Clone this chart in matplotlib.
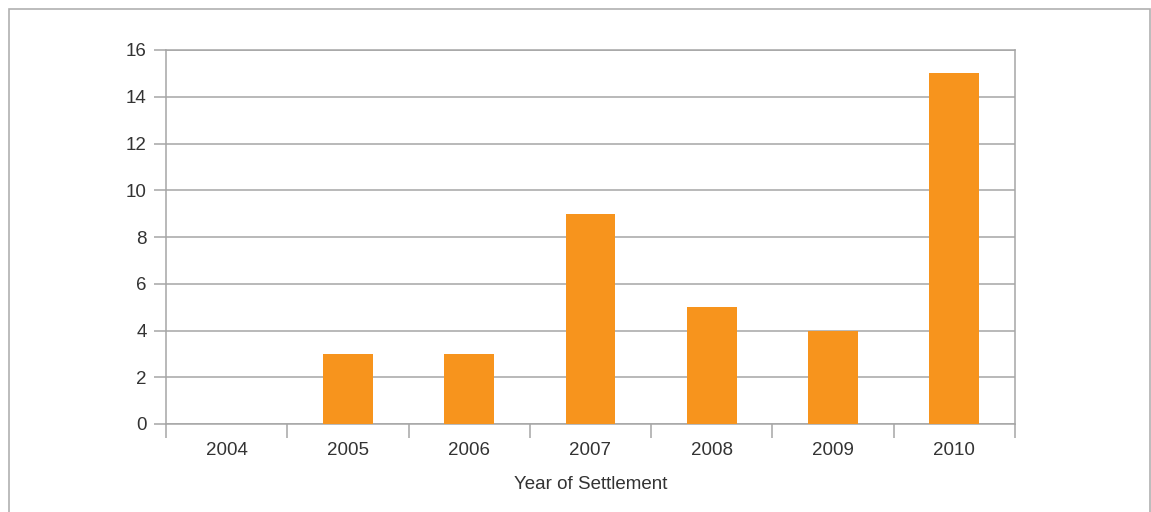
import numpy as np
import matplotlib.pyplot as plt
from matplotlib.patches import Rectangle

years = ['2004', '2005', '2006', '2007', '2008', '2009', '2010']
settlements = [0, 3, 3, 9, 5, 4, 15]
y_ticks = [0, 2, 4, 6, 8, 10, 12, 14, 16]

plt.rcParams['font.family'] = ['Liberation Sans', 'DejaVu Sans']

W, H = 1151, 512
fig = plt.figure(figsize=(W / 100, H / 100), dpi=100)
ax = fig.add_axes([166 / W, (H - 424) / H, (1015 - 166) / W, (424 - 50) / H])

grey = '#a6a6a6'
text_col = '#333333'

x = np.arange(len(years))
ax.bar(x, settlements, width=0.41, color='#f7941d', zorder=3)

ax.set_xlim(-0.5, len(years) - 0.5)
ax.set_ylim(0, 16)
ax.set_yticks(y_ticks)
ax.set_xticks(x)
ax.set_xticklabels(years)
ax.set_xticks(np.arange(len(years) + 1) - 0.5, minor=True)

ax.grid(axis='y', color=grey, linewidth=1.1, zorder=0)
for s in ax.spines.values():
    s.set_color(grey)
    s.set_linewidth(1.1)

ax.tick_params(axis='x', which='major', length=0, pad=13, labelsize=13.5, colors=text_col)
ax.tick_params(axis='x', which='minor', length=10, width=1.1, color=grey)
ax.tick_params(axis='y', length=9, width=1.1, color=grey, pad=5, labelsize=13.5, labelcolor=text_col)

ax.set_xlabel('Year of Settlement', fontsize=13.5, color=text_col, labelpad=12)

# outer frame around the chart
fig.patches.append(Rectangle((9 / W, -0.1), (1150 - 9) / W, 1.1 - 9 / H,
                             transform=fig.transFigure, fill=False,
                             edgecolor='#b0b0b0', linewidth=1.2))

fig.savefig('out.png', dpi=100)
